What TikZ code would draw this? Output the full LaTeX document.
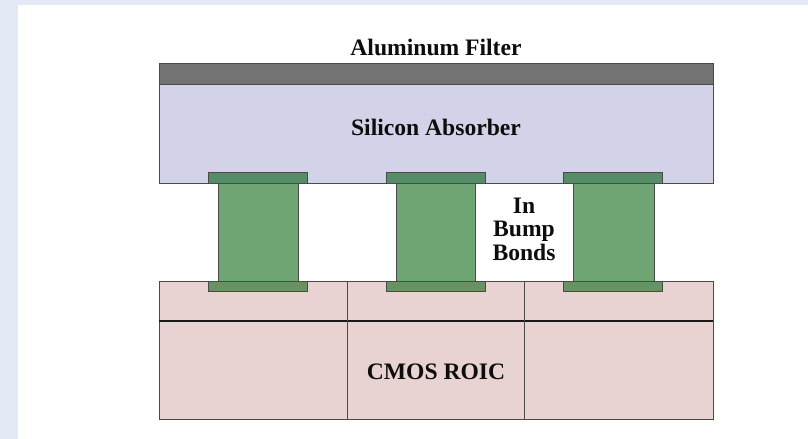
\documentclass[tikz,border=0pt]{standalone}
\usepackage{fontspec}
\setmainfont{Liberation Serif}
\usepackage{xcolor}
\definecolor{pagebg}{HTML}{E3EAF5}
\definecolor{filtergray}{HTML}{737373}
\definecolor{absorberblue}{HTML}{D2D3E8}
\definecolor{bondgreen}{HTML}{6FA572}
\definecolor{padgreen}{HTML}{568C68}
\definecolor{lowpadgreen}{HTML}{66935F}
\definecolor{roicpink}{HTML}{E9D2D2}
\definecolor{edgegray}{HTML}{4A4A4A}
\tikzset{
  layer/.style={draw=edgegray, line width=0.75pt},
  label/.style={font=\bfseries\fontsize{17.7}{17.6}\selectfont, align=center, text=black!95}
}

\begin{document}
\begin{tikzpicture}[x=0.75pt,y=-0.75pt]
        % Draw the page
        \fill[pagebg] (0,0) rectangle (808,439);
        \fill[white] (18,5) rectangle (808,439);
        \useasboundingbox (0,0) rectangle (808,439);

        % Draw the filter and the absorber
        \draw[layer, fill=absorberblue] (159,84) rectangle (713,183);
        \draw[layer, fill=filtergray] (159,63) rectangle (713,84);

        % Draw the readout chip
        \draw[layer, fill=roicpink] (159,281) rectangle (713,419);
        \draw[line width=1.1pt, black!90] (159,321) -- (713,321);
        \draw[layer] (347,281) -- (347,419);
        \draw[layer] (524,281) -- (524,419);

        % Draw the bump bonds
        \foreach \padx/\bondx/\bondr in {208/218/298, 386/396/475, 563/573/654} {
            \draw[layer, fill=bondgreen] (\bondx,183) rectangle (\bondr,281);
            \draw[layer, fill=padgreen] (\padx,172) rectangle (\padx+99,183);
            \draw[layer, fill=lowpadgreen] (\padx,281) rectangle (\padx+99,291);
        }

        % Label the parts
        \node[label] (filterlabel) at (436,47) {Aluminum Filter};
        \node[label] (absorberlabel) at (436,127) {Silicon Absorber};
        \node[label] (bumplabel) at (524,229) {In\\Bump\\Bonds};
        \node[label] (roiclabel) at (436,372) {CMOS ROIC};
    \end{tikzpicture}
\end{document}
